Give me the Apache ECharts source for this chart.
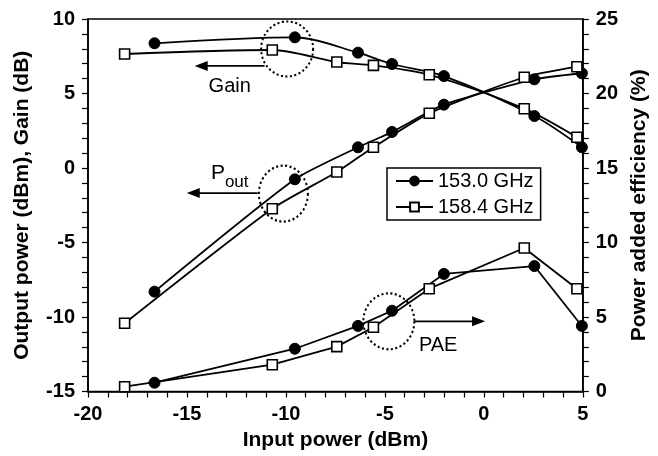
<!DOCTYPE html>
<html>
<head>
<meta charset="utf-8">
<script src="https://cdn.jsdelivr.net/npm/echarts@6/dist/echarts.min.js"></script>
<style>
  html, body { margin: 0; padding: 0; background: #fff; }
  #chart { width: 658px; height: 456px; }
</style>
</head>
<body>
<div id="chart"></div>
<script>
// input power (dBm) for each frequency
const pin153 = [-16.64, -9.55, -6.36, -4.64, -2.02, 2.55, 4.95];
const pin158 = [-18.15, -10.69, -7.43, -5.58, -2.76, 2.04, 4.7];

const gain153 = [8.37, 8.77, 7.74, 6.98, 6.17, 3.49, 1.39];
const gain158 = [7.65, 7.92, 7.11, 6.89, 6.26, 3.98, 2.06];
const pout153 = [-8.30, -0.76, 1.39, 2.42, 4.25, 5.95, 6.36];
const pout158 = [-10.42, -2.73, -0.27, 1.39, 3.67, 6.09, 6.80];
const pae153 = [0.59, 2.87, 4.40, 5.42, 7.89, 8.42, 4.40];
const pae158 = [0.32, 1.80, 3.01, 4.31, 6.90, 9.63, 6.90];

const xTicks = [-20, -15, -10, -5, 0, 5];
const leftTicks = [-15, -10, -5, 0, 5, 10];
const rightTicks = [0, 5, 10, 15, 20, 25];

const FONT = '"Liberation Sans", Arial, sans-serif';

function pairs (xs, ys) {
  return xs.map((x, i) => [x, ys[i]]);
}

const filled = {
  symbol: 'circle', symbolSize: 11,
  itemStyle: { color: '#000', borderColor: '#000', borderWidth: 1 }
};
const open = {
  symbol: 'rect', symbolSize: 10,
  itemStyle: { color: '#fff', borderColor: '#000', borderWidth: 1.6 }
};

function series (name, xs, ys, axis, marker, smooth) {
  return Object.assign({
    type: 'line',
    name: name,
    yAxisIndex: axis,
    data: pairs(xs, ys),
    smooth: smooth,
    clip: false,
    showAllSymbol: true,
    lineStyle: { color: '#000', width: 1.8 },
    z: 3
  }, marker);
}

function axisCommon (min, max) {
  return {
    type: 'value', min: min, max: max, interval: 5,
    axisLine: { show: true, onZero: false, lineStyle: { color: '#000', width: 1.6 } },
    axisTick: { show: true, inside: false, length: 6, lineStyle: { color: '#000', width: 1.2 } },
    minorTick: { show: true, splitNumber: 5, length: 6, lineStyle: { color: '#000', width: 1.2 } },
    splitLine: { show: false },
    axisLabel: { color: '#000', fontFamily: FONT, fontWeight: 'bold', fontSize: 20, margin: 13 },
    nameTextStyle: { color: '#000', fontFamily: FONT, fontWeight: 'bold', fontSize: 21 }
  };
}

const option = {
  animation: false,
  backgroundColor: '#fff',
  grid: {
    left: 88, right: 74, top: 19, bottom: 64.5,
    show: true, borderColor: '#000', borderWidth: 1.6
  },
  legend: {
    data: ['153.0 GHz', '158.4 GHz'],
    orient: 'vertical',
    left: 387, top: 168,
    itemWidth: 37, itemHeight: 11, itemGap: 6,
    padding: [3, 7, 3, 8],
    borderColor: '#000', borderWidth: 1.5,
    backgroundColor: '#fff',
    textStyle: { color: '#000', fontFamily: FONT, fontSize: 20 },
    selectedMode: false
  },
  xAxis: Object.assign(axisCommon(xTicks[0], xTicks[xTicks.length - 1]), {
    name: 'Input power (dBm)', nameLocation: 'middle', nameGap: 35
  }),
  yAxis: [
    Object.assign(axisCommon(leftTicks[0], leftTicks[leftTicks.length - 1]), {
      name: 'Output power (dBm), Gain (dB)', nameLocation: 'middle', nameGap: 55, position: 'left'
    }),
    Object.assign(axisCommon(rightTicks[0], rightTicks[rightTicks.length - 1]), {
      name: 'Power added efficiency (%)', nameLocation: 'middle', nameGap: 46, position: 'right'
    })
  ],
  series: [
    series('153.0 GHz', pin153, gain153, 0, filled, 0.3),
    series('158.4 GHz', pin158, gain158, 0, open, 0.3),
    series('153.0 GHz', pin153, pout153, 0, filled, 0.2),
    series('158.4 GHz', pin158, pout158, 0, open, 0.2),
    series('153.0 GHz', pin153, pae153, 1, filled, false),
    series('158.4 GHz', pin158, pae158, 1, open, false)
  ]
};

const chart = echarts.init(document.getElementById('chart'), null, { renderer: 'canvas' });
chart.setOption(option);

// annotations, placed in data coordinates of the left axis
const circles = [
  { at: [-9.94, 7.99], rx: 26, ry: 27.5 },
  { at: [-10.13, -1.72], rx: 24.5, ry: 28 },
  { at: [-4.80, -10.29], rx: 25.5, ry: 28 }
];
const arrows = [
  { from: [-11.08, 6.85], to: [-14.61, 6.85] },
  { from: [-11.43, -1.68], to: [-15.01, -1.68] },
  { from: [-3.52, -10.29], to: [0.06, -10.29] }
];
const labels = [
  { at: [-12.84, 5.44], text: 'Gain' },
  { at: [-12.84, -0.30], text: '{p|P}{s|out}' },
  { at: [-2.31, -11.88], text: 'PAE' }
];

function toPx (p) {
  return chart.convertToPixel({ xAxisIndex: 0, yAxisIndex: 0 }, p);
}

const graphics = [];
circles.forEach(c => {
  const [cx, cy] = toPx(c.at);
  graphics.push({
    type: 'circle', x: cx, y: cy, scaleY: c.ry / c.rx,
    shape: { cx: 0, cy: 0, r: c.rx },
    style: { fill: null, stroke: '#000', lineWidth: 2, lineDash: [2, 2.5], strokeNoScale: true },
    z: 10
  });
});
arrows.forEach(a => {
  const [x1, y1] = toPx(a.from);
  const [x2, y2] = toPx(a.to);
  const dir = Math.sign(x2 - x1);
  const head = 13;
  graphics.push({
    type: 'line',
    shape: { x1: x1, y1: y1, x2: x2 - dir * head * 0.8, y2: y2 },
    style: { stroke: '#000', lineWidth: 1.8 },
    z: 10
  });
  graphics.push({
    type: 'polygon',
    shape: { points: [[x2, y2], [x2 - dir * head, y2 - 5], [x2 - dir * head, y2 + 5]] },
    style: { fill: '#000' },
    z: 10
  });
});
labels.forEach(l => {
  const [x, y] = toPx(l.at);
  graphics.push({
    type: 'text', x: x, y: y,
    style: {
      text: l.text, fill: '#000', align: 'center', verticalAlign: 'middle',
      font: '20px ' + FONT,
      rich: {
        p: { fontSize: 21, fontFamily: FONT, fill: '#000', verticalAlign: 'bottom', lineHeight: 22 },
        s: { fontSize: 17, fontFamily: FONT, fill: '#000', verticalAlign: 'bottom', padding: [0, 0, -7, 0], lineHeight: 22 }
      }
    },
    z: 10
  });
});
chart.setOption({ graphic: graphics });
</script>
</body>
</html>
